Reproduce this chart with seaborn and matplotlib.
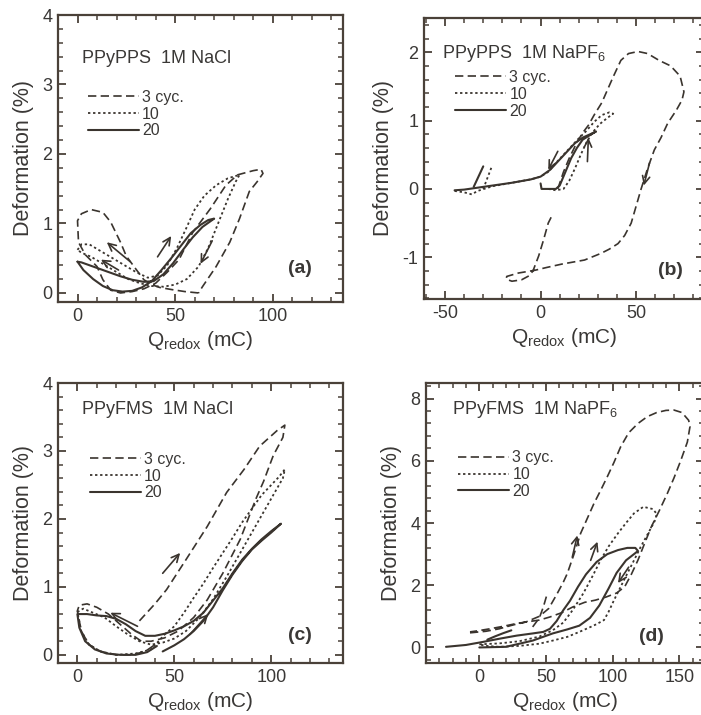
import matplotlib
matplotlib.use("Agg")
import matplotlib.pyplot as plt
import numpy as np
import pandas as pd
import seaborn as sns
from matplotlib.ticker import MultipleLocator
from matplotlib.lines import Line2D

# ---------------- data ----------------
legend_labels = ["3 cyc.", "10", "20"]
panel_titles = ["PPyPPS  1M NaCl", "PPyPPS  1M NaPF$_6$", "PPyFMS  1M NaCl", "PPyFMS  1M NaPF$_6$"]
panel_tags = ["(a)", "(b)", "(c)", "(d)"]

# panel (a)
a_dash_x = [62, 55, 48, 42, 38, 34, 30, 25, 22, 17, 13, 7, 2, 0, 0.5, 4, 10, 13, 17, 22, 28, 34, 40, 46, 52, 59, 68, 76, 82, 90, 94, 95, 92, 88, 83, 78, 71, 64, 62]
a_dash_y = [0.0, 0.02, 0.05, 0.08, 0.12, 0.19, 0.34, 0.53, 0.73, 1.02, 1.16, 1.2, 1.14, 1.04, 0.73, 0.55, 0.38, 0.19, 0.04, 0.0, 0.02, 0.06, 0.14, 0.3, 0.48, 0.87, 1.21, 1.55, 1.7, 1.76, 1.78, 1.72, 1.6, 1.46, 1.07, 0.73, 0.38, 0.09, 0.0]
a_dot_x = [0, 2, 6, 12, 18, 24, 30, 36, 41, 46, 51, 56, 60, 65, 71, 77, 83, 81, 77, 72, 67, 62, 56, 50, 44, 38, 32, 26, 20, 13, 7, 2, 0]
a_dot_y = [0.62, 0.7, 0.7, 0.6, 0.5, 0.4, 0.3, 0.22, 0.25, 0.4, 0.65, 0.95, 1.2, 1.4, 1.55, 1.65, 1.7, 1.6, 1.35, 1.0, 0.65, 0.38, 0.2, 0.12, 0.09, 0.1, 0.14, 0.2, 0.3, 0.42, 0.52, 0.58, 0.62]
a_sol_x = [0, 3, 8, 13, 18, 23, 28, 33, 38, 43, 48, 53, 58, 63, 67, 70, 68, 64, 59, 54, 49, 44, 39, 34, 28, 22, 16, 10, 5, 2, 0]
a_sol_y = [0.45, 0.33, 0.2, 0.1, 0.04, 0.02, 0.03, 0.08, 0.17, 0.33, 0.5, 0.68, 0.86, 0.98, 1.05, 1.07, 1.03, 0.95, 0.8, 0.62, 0.43, 0.27, 0.17, 0.16, 0.19, 0.24, 0.3, 0.36, 0.41, 0.44, 0.45]

# panel (b)
b_dash_x = [9, 12, 15, 19, 22, 25, 28, 32, 35, 38, 42, 46, 51, 56, 62, 68, 73, 75, 74, 71, 66.5, 63, 59.5, 56, 52.6, 50, 47.4, 44, 40.5, 36, 31.8, 23, 11, 3, -3, -11.6, -17.7, -18, -15, -10, -6, -4, -1, 1.5, 4, 6.5]
b_dash_y = [0.0, 0.25, 0.45, 0.68, 0.82, 0.93, 1.08, 1.26, 1.45, 1.64, 1.88, 1.98, 2.01, 1.98, 1.88, 1.8, 1.65, 1.42, 1.3, 1.15, 0.96, 0.75, 0.57, 0.3, 0.0, -0.25, -0.5, -0.68, -0.8, -0.88, -0.94, -1.04, -1.1, -1.15, -1.19, -1.23, -1.28, -1.32, -1.35, -1.33, -1.27, -1.2, -0.98, -0.75, -0.5, -0.36]
b_dot_x = [-45, -40, -36, -33, -25, -15, -5, 0, 4, 8, 12, 16, 20, 24, 28, 32, 36, 38, 35, 31, 27, 24, 21, 18, 15, 12, 8, 4]
b_dot_y = [-0.03, -0.05, -0.08, -0.03, 0.04, 0.09, 0.14, 0.18, 0.25, 0.38, 0.5, 0.62, 0.74, 0.85, 0.98, 1.08, 1.12, 1.1, 1.04, 0.95, 0.82, 0.68, 0.5, 0.3, 0.12, 0.0, -0.02, 0.0]
b_dot2_x = [-30, -25.5]
b_dot2_y = [0.0, 0.33]
b_sol_x = [-45, -40, -35, -25, -15, -5, 0, 5, 10, 14, 18, 22, 26, 29, 26, 22, 19, 16, 13, 10, 8, 4, 0.5, 0]
b_sol_y = [-0.02, -0.01, 0.01, 0.05, 0.09, 0.14, 0.18, 0.28, 0.43, 0.55, 0.67, 0.75, 0.8, 0.84, 0.79, 0.72, 0.6, 0.45, 0.25, 0.05, 0.0, 0.0, 0.0, 0.08]
b_sol2_x = [-35, -30]
b_sol2_y = [0.03, 0.33]

# panel (c)
c_dash_x = [32, 40, 46, 56, 67, 77, 86, 94, 103, 107, 106, 101, 96, 92, 84, 75, 67, 60, 52, 45, 38, 33, 28, 22, 16, 10, 5, 1, 0, 2, 6, 12, 20, 28, 35, 40]
c_dash_y = [0.5, 0.75, 0.96, 1.4, 1.89, 2.39, 2.73, 3.07, 3.3, 3.38, 3.2, 2.93, 2.55, 2.29, 1.7, 1.2, 0.81, 0.55, 0.35, 0.25, 0.2, 0.2, 0.3, 0.45, 0.6, 0.7, 0.75, 0.73, 0.65, 0.35, 0.15, 0.05, 0.0, 0.0, 0.05, 0.15]
c_dot_x = [45, 50, 55, 60, 65, 70, 75, 80, 85, 90, 95, 100, 104, 107, 106, 103, 99, 93, 85, 77, 70, 63, 56, 50, 44, 38, 32, 26, 20, 14, 8, 3, 0, 2, 6, 12, 20, 30, 38, 45]
c_dot_y = [0.3, 0.42, 0.62, 0.84, 1.05, 1.28, 1.5, 1.72, 1.95, 2.15, 2.35, 2.5, 2.62, 2.73, 2.6, 2.45, 2.25, 1.95, 1.55, 1.15, 0.82, 0.55, 0.35, 0.24, 0.18, 0.15, 0.2, 0.3, 0.42, 0.55, 0.62, 0.68, 0.63, 0.35, 0.15, 0.05, 0.0, 0.02, 0.08, 0.3]
c_sol_x = [44, 50, 55, 60, 65, 70, 75, 80, 85, 90, 95, 100, 105, 100, 95, 90, 85, 80, 75, 70, 65, 60, 55, 50, 45, 40, 35, 30, 25, 20, 15, 10, 5, 0, 1, 4, 9, 15, 22, 30, 36, 41]
c_sol_y = [0.05, 0.14, 0.23, 0.35, 0.5, 0.7, 0.95, 1.18, 1.38, 1.55, 1.68, 1.8, 1.93, 1.82, 1.7, 1.56, 1.4, 1.2, 0.98, 0.8, 0.62, 0.5, 0.42, 0.36, 0.31, 0.28, 0.28, 0.35, 0.45, 0.53, 0.57, 0.58, 0.6, 0.6, 0.4, 0.2, 0.08, 0.02, 0.0, 0.0, 0.04, 0.13]

# panel (d)
d_dash_x = [-7, 5, 15, 25, 35, 45, 52, 58, 63, 66, 71, 76, 81, 86, 91, 96, 101, 106, 112, 119, 126, 133, 140, 146, 152, 157, 158, 156, 151, 146, 141, 135, 129, 124, 119, 114, 109, 103, 95, 87, 79, 70, 62, 53, 45, 37, 28, 18, 8, -2, -7]
d_dash_y = [0.47, 0.52, 0.6, 0.72, 0.82, 1.0, 1.25, 1.7, 2.1, 2.38, 3.0, 3.67, 4.15, 4.63, 5.05, 5.49, 5.95, 6.45, 6.9, 7.2, 7.42, 7.55, 7.62, 7.63, 7.55, 7.3, 7.1, 6.6, 6.0, 5.45, 4.95, 4.4, 3.88, 3.35, 2.81, 2.35, 1.95, 1.75, 1.62, 1.52, 1.45, 1.3, 1.12, 0.98, 0.88, 0.83, 0.77, 0.68, 0.6, 0.53, 0.5]
d_dash2_x = [40, 45, 48, 51]
d_dash2_y = [0.66, 0.95, 1.3, 1.74]
d_dot_x = [0, 15, 30, 45, 55, 63, 70, 78, 85, 91, 97, 104, 110, 116, 123, 130, 133, 132, 127, 121, 116, 111, 106, 101, 97, 93.5, 88, 83.5, 75, 66, 55, 45, 30, 15, 5, 0]
d_dot_y = [0.1, 0.13, 0.2, 0.35, 0.55, 0.8, 1.2, 1.74, 2.3, 2.81, 3.25, 3.67, 4.0, 4.31, 4.52, 4.45, 4.3, 4.1, 3.7, 3.23, 2.8, 2.38, 1.95, 1.52, 1.15, 0.88, 0.75, 0.66, 0.5, 0.34, 0.22, 0.12, 0.05, 0.02, 0.05, 0.1]
d_sol_x = [0, 20, 40, 55, 66, 75, 83, 90, 97, 103, 110, 116, 119, 117, 111, 104, 96, 88, 80, 74, 68, 63, 58, 53, 48, 40, 28, 15, 3, -10, -25]
d_sol_y = [0.0, 0.02, 0.22, 0.45, 0.58, 0.7, 0.95, 1.35, 1.9, 2.4, 2.8, 3.0, 3.1, 3.2, 3.2, 3.13, 3.0, 2.75, 2.35, 1.95, 1.5, 1.2, 0.85, 0.6, 0.5, 0.45, 0.38, 0.28, 0.18, 0.08, 0.02]
d_sol2_x = [6, 12, 18, 24]
d_sol2_y = [0.25, 0.36, 0.46, 0.55]

# direction arrows (tail -> head)
a_arr_tx = [41, 69, 27, 21]; a_arr_ty = [0.52, 0.75, 0.45, 0.33]
a_arr_hx = [48, 63, 15, 12]; a_arr_hy = [0.82, 0.42, 0.73, 0.48]
b_arr_tx = [9, 24.5, 57]; b_arr_ty = [0.55, 0.4, 0.38]
b_arr_hx = [4, 25, 54]; b_arr_hy = [0.28, 0.75, 0.05]
c_arr_tx = [31, 44, 58]; c_arr_ty = [0.42, 1.2, 0.3]
c_arr_hx = [17, 53, 67.5]; c_arr_hy = [0.62, 1.5, 0.6]
d_arr_tx = [69.7, 83.5, 112]; d_arr_ty = [2.9, 2.8, 2.58]
d_arr_hx = [73.5, 88.6, 104]; d_arr_hy = [3.6, 3.4, 2.07]

# ---------------- style ----------------
sns.set_theme(style="ticks")
plt.rcParams['font.family'] = ['Liberation Sans', 'DejaVu Sans']
plt.rcParams['mathtext.fontset'] = 'custom'
plt.rcParams['mathtext.rm'] = 'Liberation Sans'
plt.rcParams['mathtext.it'] = 'Liberation Sans:italic'
plt.rcParams['mathtext.bf'] = 'Liberation Sans:bold'
plt.rcParams['axes.unicode_minus'] = False

LINE = '#3a342e'
FRAME = '#4a4139'
TEXT = '#3a3836'

styles = {"dash": (0, (5.0, 2.6)), "dot": (0, (1.3, 1.5)), "sol": "-"}
widths = {"dash": 1.2, "dot": 1.3, "sol": 1.5}


def make_df(segments):
    frames = []
    for i, (xs, ys) in enumerate(segments):
        frames.append(pd.DataFrame({"x": xs, "y": ys, "seg": i}))
    return pd.concat(frames, ignore_index=True)


fig = plt.figure(figsize=(7.01, 7.15), dpi=100)
fig.patch.set_facecolor('white')

rects = [
    [58/701, 1-302/715, 285/701, 287/715],
    [424/701, 1-299/715, 280/701, 281/715],
    [58/701, 1-663/715, 285/701, 280/715],
    [426/701, 1-663/715, 278/701, 280/715],
]

panels = [
    dict(series={"dash": [(a_dash_x, a_dash_y)], "dot": [(a_dot_x, a_dot_y)], "sol": [(a_sol_x, a_sol_y)]},
         arrows=(a_arr_tx, a_arr_ty, a_arr_hx, a_arr_hy),
         xlim=(-10, 136), ylim=(-0.13, 4.0), xmaj=50, xmin=10, ymaj=1, ymin=0.2,
         title_pos=(0.084, 0.85), leg_pos=(0.105, 0.74), tag_pos=(0.85, 0.118)),
    dict(series={"dash": [(b_dash_x, b_dash_y)], "dot": [(b_dot_x, b_dot_y), (b_dot2_x, b_dot2_y)],
                 "sol": [(b_sol_x, b_sol_y), (b_sol2_x, b_sol2_y)]},
         arrows=(b_arr_tx, b_arr_ty, b_arr_hx, b_arr_hy),
         xlim=(-61, 85.5), ylim=(-1.61, 2.5), xmaj=50, xmin=10, ymaj=1, ymin=0.2,
         title_pos=(0.063, 0.875), leg_pos=(0.111, 0.815), tag_pos=(0.88, 0.103)),
    dict(series={"dash": [(c_dash_x, c_dash_y)], "dot": [(c_dot_x, c_dot_y)], "sol": [(c_sol_x, c_sol_y)]},
         arrows=(c_arr_tx, c_arr_ty, c_arr_hx, c_arr_hy),
         xlim=(-10, 137), ylim=(-0.12, 4.0), xmaj=50, xmin=10, ymaj=1, ymin=0.2,
         title_pos=(0.084, 0.904), leg_pos=(0.112, 0.755), tag_pos=(0.85, 0.1)),
    dict(series={"dash": [(d_dash_x, d_dash_y), (d_dash2_x, d_dash2_y)], "dot": [(d_dot_x, d_dot_y)],
                 "sol": [(d_sol_x, d_sol_y), (d_sol2_x, d_sol2_y)]},
         arrows=(d_arr_tx, d_arr_ty, d_arr_hx, d_arr_hy),
         xlim=(-40, 168.5), ylim=(-0.5, 8.5), xmaj=50, xmin=10, ymaj=2, ymin=0.4,
         title_pos=(0.093, 0.904), leg_pos=(0.1155, 0.76), tag_pos=(0.81, 0.093)),
]

for k, (rect, p) in enumerate(zip(rects, panels)):
    ax = fig.add_axes(rect)
    ax.set_facecolor('white')
    for key in ["dash", "dot", "sol"]:
        df = make_df(p["series"][key])
        sns.lineplot(data=df, x="x", y="y", units="seg", estimator=None, sort=False,
                     color=LINE, linewidth=widths[key], linestyle=styles[key], ax=ax,
                     legend=False)
    tx, ty, hx, hy = p["arrows"]
    for x0, y0, x1, y1 in zip(tx, ty, hx, hy):
        ax.annotate("", xy=(x1, y1), xytext=(x0, y0),
                    arrowprops=dict(arrowstyle="->,head_length=0.45,head_width=0.22",
                                    color=LINE, lw=1.2, shrinkA=0, shrinkB=0))
    ax.set_xlim(*p["xlim"])
    ax.set_ylim(*p["ylim"])
    ax.xaxis.set_major_locator(MultipleLocator(p["xmaj"]))
    ax.xaxis.set_minor_locator(MultipleLocator(p["xmin"]))
    ax.yaxis.set_major_locator(MultipleLocator(p["ymaj"]))
    ax.yaxis.set_minor_locator(MultipleLocator(p["ymin"]))
    ax.tick_params(which="both", direction="in", top=True, right=True,
                   color=FRAME, labelcolor=TEXT, labelsize=13)
    ax.tick_params(which="major", length=6, width=1.3, pad=4)
    ax.tick_params(which="minor", length=3.5, width=1.1)
    for sp in ax.spines.values():
        sp.set_color(FRAME)
        sp.set_linewidth(1.6)
    ax.set_xlabel(r"$\mathrm{Q}_{\mathrm{redox}}$ (mC)", fontsize=15, color=TEXT, labelpad=3)
    ax.set_ylabel("Deformation (%)", fontsize=15.5, color=TEXT, labelpad=6)
    ax.text(p["title_pos"][0], p["title_pos"][1], panel_titles[k], transform=ax.transAxes,
            fontsize=13, color=TEXT, ha="left", va="center")
    ax.text(p["tag_pos"][0], p["tag_pos"][1], panel_tags[k], transform=ax.transAxes,
            fontsize=14, fontweight="bold", color=TEXT, ha="center", va="center")
    handles = [Line2D([], [], color=LINE, linestyle=styles[s], linewidth=widths[s])
               for s in ["dash", "dot", "sol"]]
    leg = ax.legend(handles, legend_labels, loc="upper left", bbox_to_anchor=p["leg_pos"],
                    frameon=False, fontsize=11.5, handlelength=3.2, handletextpad=0.2,
                    labelspacing=0.12, borderpad=0, borderaxespad=0)
    for t in leg.get_texts():
        t.set_color(TEXT)

fig.savefig("out.png", dpi=100, facecolor='white')
